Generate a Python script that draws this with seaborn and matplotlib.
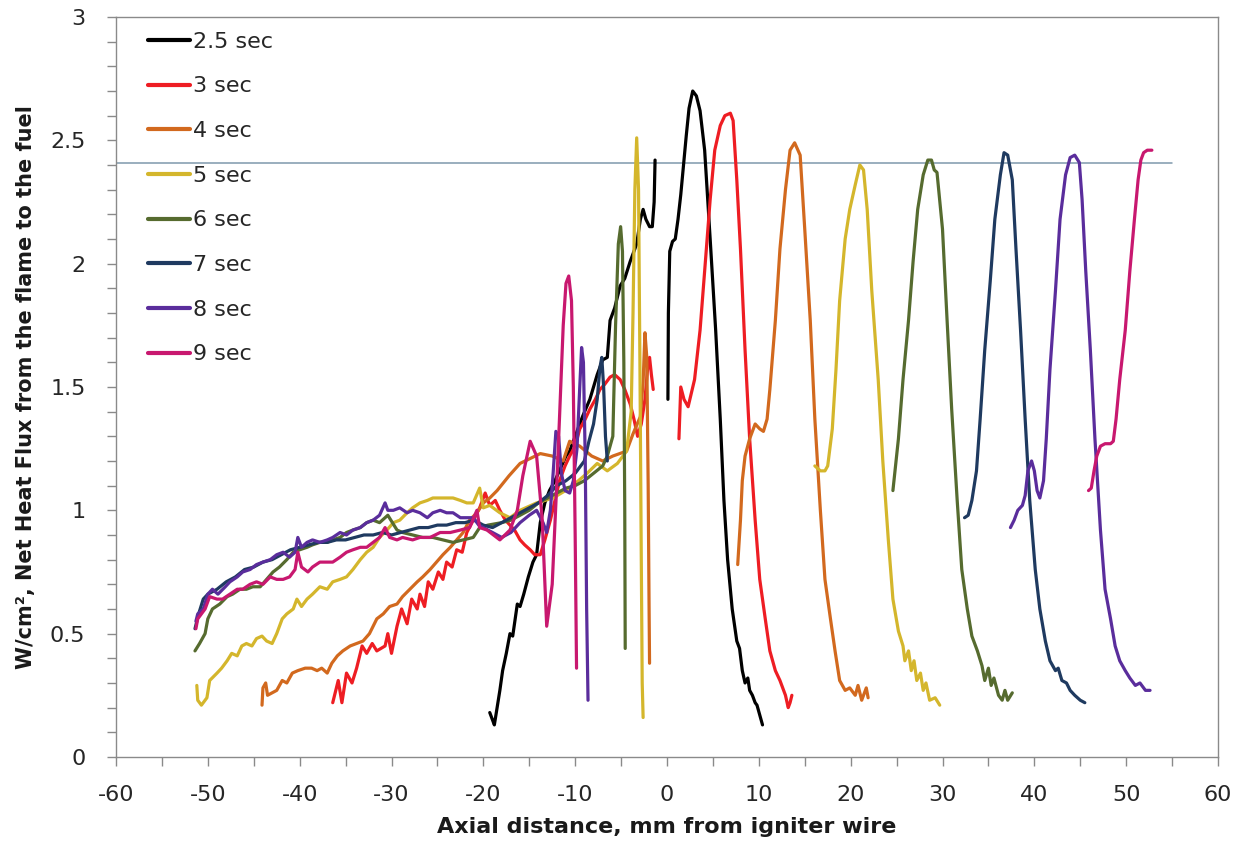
import numpy as np
import pandas as pd
import matplotlib
matplotlib.use("Agg")
import matplotlib.pyplot as plt
import seaborn as sns
from matplotlib.ticker import MultipleLocator

# ---------------- data ----------------
series_labels = ["2.5 sec", "3 sec", "4 sec", "5 sec", "6 sec", "7 sec", "8 sec", "9 sec"]
series_colors = ["#000000", "#EE1D23", "#D2691E", "#D4B62C", "#566B2F", "#1F3A60", "#5A2D9C", "#C8186F"]

# 2.5 sec
s25_x1 = [-19.3, -19.0, -18.8, -18.5, -18.2, -17.9, -17.5, -17.1, -16.8, -16.3, -16.0, -15.6, -15.1, -14.6, -14.2,
          -13.8, -13.3, -12.8, -12.2, -11.6, -11.0, -10.6, -10.0, -9.2, -8.4, -7.6, -7.0, -6.5, -6.2, -5.7, -5.1,
          -4.6, -4.0, -3.6, -3.3, -2.9, -2.6, -2.3, -1.9, -1.6, -1.4, -1.3]
s25_y1 = [0.18, 0.15, 0.13, 0.20, 0.27, 0.35, 0.42, 0.50, 0.49, 0.62, 0.61, 0.66, 0.73, 0.79, 0.82,
          0.95, 1.03, 1.08, 1.12, 1.17, 1.22, 1.24, 1.30, 1.38, 1.45, 1.55, 1.61, 1.62, 1.77, 1.82, 1.91,
          1.94, 2.01, 2.05, 2.08, 2.18, 2.22, 2.18, 2.15, 2.15, 2.25, 2.42]
s25_x2 = [0.1, 0.15, 0.3, 0.6, 0.9, 1.2, 1.5, 1.8, 2.1, 2.4, 2.8, 3.2, 3.6, 4.1, 4.7, 5.3, 5.8, 6.2, 6.6, 7.1,
          7.6, 7.9, 8.2, 8.5, 8.8, 9.0, 9.3, 9.6, 9.8, 10.1, 10.4]
s25_y2 = [1.45, 1.80, 2.05, 2.09, 2.10, 2.18, 2.28, 2.40, 2.52, 2.63, 2.70, 2.68, 2.62, 2.46, 2.10, 1.73, 1.37,
          1.04, 0.80, 0.60, 0.47, 0.44, 0.35, 0.30, 0.32, 0.27, 0.25, 0.22, 0.21, 0.17, 0.13]

# 3 sec
s3_x1 = [-36.4, -35.8, -35.4, -34.9, -34.3, -33.8, -33.2, -32.7, -32.1, -31.6, -30.7, -30.4, -30.0, -29.4, -28.9,
         -28.3, -27.8, -27.2, -26.9, -26.4, -26.0, -25.5, -24.9, -24.4, -24.0, -23.4, -22.9, -22.3, -21.8, -21.1,
         -20.4, -19.8, -19.3, -18.7, -18.2, -17.6, -17.1, -16.6, -16.0, -15.5, -14.9, -14.4, -13.8, -13.3, -12.7,
         -12.2, -11.7, -11.1, -10.6, -10.0, -9.5, -8.9, -8.4, -7.8, -7.3, -6.8, -6.2, -5.7, -5.1, -4.6, -4.0,
         -3.6, -3.2, -2.8, -2.4, -2.1, -1.9, -1.7, -1.5]
s3_y1 = [0.22, 0.31, 0.22, 0.34, 0.30, 0.36, 0.45, 0.42, 0.46, 0.43, 0.45, 0.50, 0.42, 0.53, 0.60,
         0.54, 0.64, 0.60, 0.66, 0.61, 0.71, 0.68, 0.75, 0.72, 0.79, 0.77, 0.84, 0.83, 0.91, 0.96,
         1.01, 1.07, 1.02, 1.04, 1.00, 0.96, 0.94, 0.92, 0.88, 0.86, 0.84, 0.82, 0.82, 0.88, 0.96,
         1.04, 1.12, 1.18, 1.22, 1.26, 1.33, 1.37, 1.41, 1.45, 1.49, 1.51, 1.54, 1.55, 1.53, 1.49, 1.43,
         1.37, 1.30, 1.35, 1.45, 1.58, 1.62, 1.55, 1.49]
s3_x2 = [1.3, 1.5, 1.85, 2.3, 3.0, 3.6, 4.1, 4.7, 5.2, 5.8, 6.3, 6.9, 7.2, 7.6, 8.0, 8.5, 9.0, 9.6, 10.1, 10.7,
         11.2, 11.8, 12.3, 12.9, 13.2, 13.4, 13.6]
s3_y2 = [1.29, 1.50, 1.45, 1.42, 1.53, 1.73, 1.97, 2.26, 2.46, 2.56, 2.60, 2.61, 2.58, 2.34, 2.06, 1.65, 1.29,
         0.96, 0.72, 0.56, 0.43, 0.35, 0.31, 0.25, 0.20, 0.22, 0.25]

# 4 sec
s4_x1 = [-44.1, -44.0, -43.7, -43.5, -43.0, -42.5, -41.9, -41.4, -40.8, -40.2, -39.4, -38.7, -38.1, -37.6, -37.0,
         -36.5, -35.9, -35.3, -34.5, -33.8, -33.1, -32.4, -31.6, -30.9, -30.2, -29.4, -28.8, -28.0, -27.2, -26.6,
         -25.8, -25.1, -24.4, -23.6, -22.9, -22.2, -21.5, -20.7, -20.0, -19.3, -18.5, -17.2, -16.0, -14.9, -13.8,
         -12.5, -11.3, -10.6, -9.5, -8.2, -7.0, -5.9, -4.4, -3.7, -2.9, -2.6, -2.4, -2.2, -2.05, -1.95, -1.9]
s4_y1 = [0.21, 0.28, 0.30, 0.25, 0.26, 0.27, 0.31, 0.30, 0.34, 0.35, 0.36, 0.36, 0.35, 0.36, 0.34,
         0.38, 0.41, 0.43, 0.45, 0.46, 0.47, 0.50, 0.56, 0.58, 0.61, 0.62, 0.65, 0.68, 0.71, 0.73,
         0.76, 0.79, 0.82, 0.85, 0.88, 0.91, 0.96, 0.99, 1.03, 1.05, 1.08, 1.14, 1.19, 1.21, 1.23,
         1.22, 1.20, 1.28, 1.26, 1.22, 1.20, 1.22, 1.24, 1.31, 1.38, 1.52, 1.72, 1.62, 1.10, 0.60, 0.38]
s4_x2 = [7.7, 8.0, 8.2, 8.5, 9.0, 9.6, 10.1, 10.5, 10.9, 11.2, 11.8, 12.3, 12.9, 13.4, 13.9, 14.5, 15.0, 15.6,
         16.1, 16.7, 17.2, 17.8, 18.3, 18.8, 19.4, 19.9, 20.5, 20.8, 21.2, 21.7, 21.9]
s4_y2 = [0.78, 0.96, 1.12, 1.22, 1.29, 1.35, 1.33, 1.32, 1.37, 1.49, 1.77, 2.06, 2.30, 2.46, 2.49, 2.44, 2.14,
         1.77, 1.37, 1.00, 0.72, 0.56, 0.43, 0.31, 0.27, 0.28, 0.25, 0.29, 0.23, 0.28, 0.24]

# 5 sec
s5_x1 = [-51.2, -51.1, -50.7, -50.1, -49.8, -49.0, -48.5, -47.9, -47.4, -46.8, -46.3, -45.8, -45.2, -44.7, -44.1,
         -43.6, -43.0, -42.5, -41.9, -41.4, -40.7, -40.3, -39.8, -39.2, -38.6, -37.8, -37.0, -36.4, -35.6, -34.9,
         -34.2, -33.4, -32.7, -32.0, -31.3, -30.5, -29.8, -29.1, -28.3, -27.7, -26.9, -26.1, -25.5, -24.7, -24.0,
         -23.3, -22.5, -21.8, -21.1, -20.4, -20.0, -19.3, -18.2, -17.1, -16.0, -14.2, -12.4, -10.6, -8.7, -7.6,
         -6.5, -5.4, -4.4, -3.9, -3.7, -3.5, -3.3, -3.1, -2.95, -2.8, -2.7, -2.6]
s5_y1 = [0.29, 0.23, 0.21, 0.24, 0.31, 0.34, 0.36, 0.39, 0.42, 0.41, 0.45, 0.46, 0.45, 0.48, 0.49,
         0.47, 0.46, 0.50, 0.56, 0.58, 0.60, 0.64, 0.61, 0.64, 0.66, 0.69, 0.68, 0.71, 0.72, 0.73,
         0.76, 0.80, 0.83, 0.85, 0.89, 0.92, 0.95, 0.96, 0.99, 1.01, 1.03, 1.04, 1.05, 1.05, 1.05,
         1.05, 1.04, 1.03, 1.03, 1.09, 1.01, 1.02, 0.99, 0.97, 1.00, 1.03, 1.05, 1.09, 1.15, 1.19,
         1.16, 1.19, 1.24, 1.40, 1.80, 2.30, 2.51, 2.30, 1.60, 0.80, 0.30, 0.16]
s5_x2 = [16.1, 16.7, 17.2, 17.5, 18.0, 18.4, 18.8, 19.4, 19.9, 20.5, 21.0, 21.4, 21.8, 22.3, 23.0, 23.5, 24.1,
         24.6, 25.2, 25.7, 25.9, 26.3, 26.6, 26.9, 27.2, 27.6, 27.9, 28.2, 28.6, 29.2, 29.7]
s5_y2 = [1.18, 1.16, 1.16, 1.18, 1.33, 1.57, 1.85, 2.10, 2.22, 2.32, 2.40, 2.38, 2.22, 1.89, 1.53, 1.20, 0.88,
         0.64, 0.51, 0.45, 0.39, 0.43, 0.35, 0.39, 0.31, 0.34, 0.27, 0.30, 0.23, 0.24, 0.21]

# 6 sec
s6_x1 = [-51.4, -50.9, -50.3, -50.0, -49.5, -48.7, -47.9, -47.3, -46.5, -45.8, -45.1, -44.3, -43.6, -42.9, -42.2,
         -41.4, -40.7, -40.0, -39.2, -38.6, -37.8, -37.0, -36.4, -35.6, -34.9, -34.2, -33.4, -32.7, -32.0, -31.3,
         -30.4, -29.4, -28.8, -27.7, -26.6, -25.5, -24.4, -23.3, -22.2, -21.1, -20.4, -19.5, -18.0, -17.0, -16.0,
         -15.0, -14.0, -13.0, -12.0, -11.0, -10.0, -9.0, -8.0, -7.0, -6.5, -5.9, -5.6, -5.3, -5.05, -4.85, -4.7,
         -4.6, -4.55]
s6_y1 = [0.43, 0.46, 0.50, 0.56, 0.60, 0.62, 0.65, 0.66, 0.68, 0.68, 0.69, 0.69, 0.72, 0.75, 0.77,
         0.80, 0.83, 0.84, 0.85, 0.86, 0.87, 0.87, 0.88, 0.89, 0.91, 0.92, 0.93, 0.95, 0.96, 0.95,
         0.98, 0.92, 0.91, 0.90, 0.89, 0.89, 0.88, 0.87, 0.88, 0.89, 0.93, 0.94, 0.95, 0.96, 0.98,
         1.00, 1.03, 1.05, 1.07, 1.09, 1.10, 1.12, 1.15, 1.18, 1.22, 1.30, 1.75, 2.08, 2.15, 2.05, 1.60,
         1.00, 0.44]
s6_x2 = [24.6, 25.2, 25.7, 26.3, 26.8, 27.3, 27.9, 28.4, 28.8, 29.1, 29.4, 30.0, 30.5, 31.0, 31.6, 32.1, 32.7,
         33.2, 33.8, 34.3, 34.6, 35.0, 35.3, 35.6, 36.1, 36.5, 36.8, 37.1, 37.6]
s6_y2 = [1.08, 1.29, 1.53, 1.77, 2.01, 2.22, 2.36, 2.42, 2.42, 2.38, 2.37, 2.14, 1.77, 1.41, 1.04, 0.76, 0.60,
         0.49, 0.43, 0.37, 0.31, 0.36, 0.29, 0.32, 0.25, 0.23, 0.27, 0.23, 0.26]

# 7 sec
s7_x1 = [-51.4, -51.0, -50.5, -50.0, -49.0, -48.0, -47.0, -46.0, -45.0, -44.0, -43.0, -42.0, -41.0, -40.0, -39.0,
         -38.0, -37.0, -36.0, -35.0, -34.0, -33.0, -32.0, -31.0, -30.0, -29.0, -28.0, -27.0, -26.0, -25.0, -24.0,
         -23.0, -22.0, -21.0, -20.0, -19.0, -18.0, -17.0, -16.0, -15.0, -14.0, -13.0, -12.0, -11.0, -10.0, -9.0,
         -8.5, -8.0, -7.6, -7.3, -7.1, -6.9, -6.7, -6.5]
s7_y1 = [0.52, 0.58, 0.64, 0.66, 0.68, 0.71, 0.73, 0.76, 0.77, 0.79, 0.80, 0.82, 0.84, 0.85, 0.86,
         0.87, 0.87, 0.88, 0.88, 0.89, 0.90, 0.90, 0.91, 0.90, 0.91, 0.92, 0.93, 0.93, 0.94, 0.94,
         0.95, 0.95, 0.96, 0.94, 0.93, 0.95, 0.97, 0.99, 1.01, 1.03, 1.06, 1.10, 1.12, 1.15, 1.20,
         1.28, 1.35, 1.45, 1.58, 1.62, 1.50, 1.30, 1.20]
s7_x2 = [32.4, 32.8, 33.2, 33.7, 34.1, 34.6, 35.2, 35.7, 36.3, 36.7, 37.1, 37.6, 38.0, 38.5, 39.0, 39.5, 40.1,
         40.6, 41.2, 41.7, 42.3, 42.6, 43.0, 43.5, 43.9, 44.4, 45.0, 45.5]
s7_y2 = [0.97, 0.98, 1.04, 1.16, 1.37, 1.65, 1.93, 2.18, 2.36, 2.45, 2.44, 2.34, 2.06, 1.73, 1.37, 1.04, 0.76,
         0.60, 0.47, 0.39, 0.35, 0.36, 0.31, 0.30, 0.27, 0.25, 0.23, 0.22]

# 8 sec
s8_x1 = [-51.3, -51.1, -50.5, -50.0, -49.5, -48.9, -48.1, -47.6, -46.8, -46.2, -45.4, -44.7, -44.0, -43.2, -42.5,
         -41.8, -41.1, -40.5, -40.2, -39.8, -39.2, -38.6, -37.8, -37.0, -36.4, -35.6, -34.9, -34.2, -33.4, -32.7,
         -32.0, -31.3, -30.7, -30.4, -29.8, -29.1, -28.3, -27.7, -26.9, -26.1, -25.5, -24.7, -24.0, -23.3, -22.5,
         -21.8, -21.1, -20.5, -20.0, -19.0, -18.0, -17.0, -16.0, -15.0, -14.2, -13.5, -13.1, -12.7, -12.4, -12.1,
         -11.8, -11.5, -11.1, -10.6, -10.2, -9.8, -9.5, -9.3, -9.1, -8.9, -8.75, -8.6]
s8_y1 = [0.55, 0.58, 0.60, 0.66, 0.68, 0.66, 0.69, 0.71, 0.73, 0.75, 0.76, 0.78, 0.79, 0.80, 0.82,
         0.83, 0.81, 0.83, 0.89, 0.85, 0.87, 0.88, 0.87, 0.88, 0.89, 0.91, 0.90, 0.92, 0.93, 0.95,
         0.96, 0.98, 1.03, 1.00, 1.00, 1.01, 0.99, 1.00, 0.99, 0.97, 0.99, 1.00, 0.99, 0.99, 0.97,
         0.97, 0.97, 0.94, 0.93, 0.91, 0.89, 0.91, 0.95, 0.98, 1.00, 0.95, 0.91, 1.00, 1.15, 1.32,
         1.30, 1.15, 1.08, 1.07, 1.12, 1.25, 1.50, 1.66, 1.60, 1.20, 0.60, 0.23]
s8_x2 = [37.4, 37.8, 38.2, 38.7, 39.0, 39.3, 39.7, 40.0, 40.3, 40.6, 41.0, 41.3, 41.7, 42.3, 42.8, 43.4, 43.9,
         44.4, 44.9, 45.2, 45.6, 46.1, 46.6, 47.2, 47.7, 48.3, 48.8, 49.3, 49.9, 50.4, 51.0, 51.5, 52.1, 52.6]
s8_y2 = [0.93, 0.96, 1.00, 1.02, 1.06, 1.16, 1.20, 1.16, 1.08, 1.05, 1.12, 1.29, 1.57, 1.89, 2.18, 2.36, 2.43,
         2.44, 2.41, 2.26, 1.97, 1.65, 1.29, 0.92, 0.68, 0.56, 0.45, 0.39, 0.35, 0.32, 0.29, 0.30, 0.27, 0.27]

# 9 sec
s9_x1 = [-51.3, -51.1, -50.3, -49.8, -49.0, -48.4, -47.6, -46.8, -46.2, -45.4, -44.7, -44.0, -43.2, -42.5, -41.8,
         -41.1, -40.5, -40.2, -39.8, -39.1, -38.6, -37.8, -37.0, -36.4, -35.6, -34.9, -34.2, -33.4, -32.7, -32.0,
         -31.3, -30.7, -30.2, -29.4, -28.8, -27.7, -26.9, -25.8, -24.7, -23.6, -22.5, -21.5, -20.7, -20.4, -19.6,
         -18.2, -17.1, -16.3, -15.7, -14.9, -14.2, -13.6, -13.1, -12.5, -12.0, -11.7, -11.3, -11.0, -10.7, -10.4,
         -10.2, -10.0, -9.85]
s9_y1 = [0.52, 0.56, 0.60, 0.65, 0.64, 0.64, 0.66, 0.68, 0.68, 0.70, 0.71, 0.70, 0.73, 0.72, 0.72,
         0.73, 0.76, 0.83, 0.77, 0.75, 0.77, 0.79, 0.79, 0.79, 0.81, 0.83, 0.84, 0.85, 0.85, 0.87,
         0.89, 0.93, 0.89, 0.88, 0.89, 0.88, 0.89, 0.89, 0.91, 0.91, 0.92, 0.93, 1.00, 0.93, 0.92,
         0.88, 0.92, 1.00, 1.14, 1.28, 1.22, 0.97, 0.53, 0.70, 1.11, 1.38, 1.75, 1.92, 1.95, 1.85,
         1.50, 0.90, 0.36]
s9_x2 = [45.9, 46.2, 46.5, 46.8, 47.2, 47.7, 48.3, 48.6, 48.9, 49.3, 49.9, 50.4, 50.9, 51.3, 51.6, 51.9, 52.3, 52.8]
s9_y2 = [1.08, 1.09, 1.16, 1.22, 1.26, 1.27, 1.27, 1.28, 1.37, 1.53, 1.73, 1.97, 2.18, 2.34, 2.42, 2.45, 2.46, 2.46]

# horizontal reference line
ref_level = 2.41
ref_x = [-60, 55]

# axis settings
x_lim = (-60, 60)
y_lim = (0, 3)

# ---------------- assemble long table ----------------
segments = [
    ("2.5 sec", s25_x1, s25_y1), ("2.5 sec", s25_x2, s25_y2),
    ("3 sec", s3_x1, s3_y1), ("3 sec", s3_x2, s3_y2),
    ("4 sec", s4_x1, s4_y1), ("4 sec", s4_x2, s4_y2),
    ("5 sec", s5_x1, s5_y1), ("5 sec", s5_x2, s5_y2),
    ("6 sec", s6_x1, s6_y1), ("6 sec", s6_x2, s6_y2),
    ("7 sec", s7_x1, s7_y1), ("7 sec", s7_x2, s7_y2),
    ("8 sec", s8_x1, s8_y1), ("8 sec", s8_x2, s8_y2),
    ("9 sec", s9_x1, s9_y1), ("9 sec", s9_x2, s9_y2),
]
frames = []
for i, (lab, xs, ys) in enumerate(segments):
    assert len(xs) == len(ys), (lab, len(xs), len(ys))
    frames.append(pd.DataFrame({"x": xs, "y": ys, "series": lab, "seg": f"{lab}_{i}"}))
df = pd.concat(frames, ignore_index=True)

# ---------------- plot ----------------
sns.set_style("ticks")
plt.rcParams["font.family"] = ["DejaVu Sans"]
plt.rcParams["axes.unicode_minus"] = False

fig = plt.figure(figsize=(12.5, 8.42), dpi=100)
ax = fig.add_axes([0.0928, 0.101, 0.8816, 0.8788])

ax.plot(ref_x, [ref_level, ref_level], color="#7F98AC", linewidth=1.1, zorder=1)

palette = dict(zip(series_labels, series_colors))
sns.lineplot(data=df, x="x", y="y", hue="series", units="seg", estimator=None, sort=False,
             hue_order=series_labels, palette=palette, linewidth=2.3, ax=ax, legend=True, zorder=2)

ax.set_xlim(*x_lim)
ax.set_ylim(*y_lim)
ax.xaxis.set_major_locator(MultipleLocator(10))
ax.xaxis.set_minor_locator(MultipleLocator(5))
ax.yaxis.set_major_locator(MultipleLocator(0.5))
ax.yaxis.set_minor_locator(MultipleLocator(0.1))
ax.yaxis.set_major_formatter(plt.FuncFormatter(lambda v, p: f"{v:g}"))
ax.tick_params(which="both", direction="out", length=6.5, width=1, color="#8A8A8A",
               labelsize=16, labelcolor="#262626")
ax.tick_params(axis="x", pad=13.5)
ax.tick_params(axis="y", pad=15.5)
for sp in ax.spines.values():
    sp.set_visible(True)
    sp.set_color("#8A8A8A")
    sp.set_linewidth(1.0)

ax.set_xlabel("Axial distance, mm from igniter wire", fontsize=16, fontweight="bold", labelpad=9,
              color="#1a1a1a")
ax.set_ylabel("W/cm², Net Heat Flux from the flame to the fuel", fontsize=15, fontweight="bold",
              labelpad=10, color="#1a1a1a")

handles, labels = ax.get_legend_handles_labels()
leg = ax.legend(handles, labels, loc="upper left", bbox_to_anchor=(0.025, 0.986), frameon=False,
                fontsize=16, handlelength=1.9, handletextpad=0.14, labelspacing=1.11, borderpad=0.2,
                borderaxespad=0.0)
for t in leg.get_texts():
    t.set_color("#262626")
for h in leg.get_lines():
    h.set_linewidth(3)

fig.savefig("out.png", dpi=100)
